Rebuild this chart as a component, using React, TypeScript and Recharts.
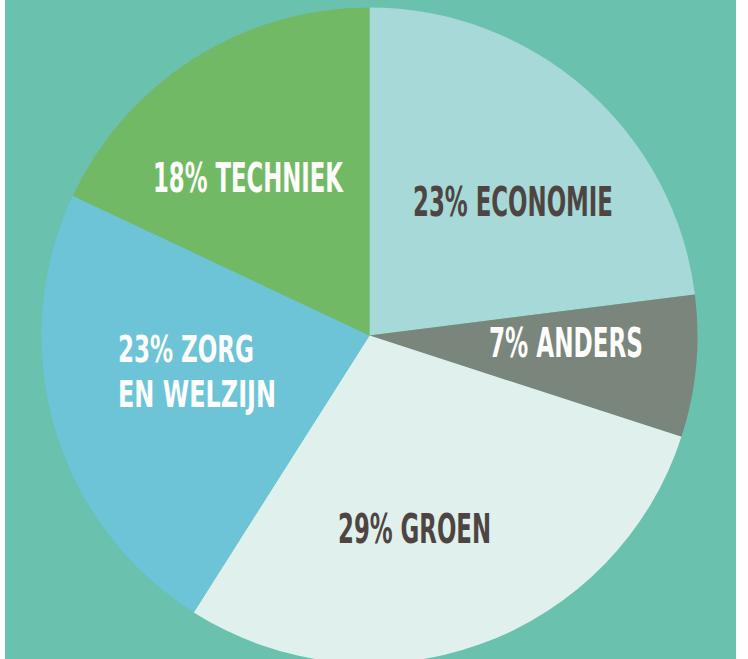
import { PieChart, Pie, Cell } from 'recharts';

// sector shares, clockwise from 12 o'clock
const categories = ['ECONOMIE', 'ANDERS', 'GROEN', 'ZORG', 'TECHNIEK'];
const shares = [23, 7, 29, 23, 18];
// extra label lines below the first one
const extraLines = [[], [], [], ['EN WELZIJN'], []];

const SLICE_COLORS = ['#a7d9d8', '#7a857b', '#e0f1ed', '#6dc4d7', '#72b965'];
const TEXT_COLORS = ['#4e4542', '#fdfdfb', '#4e4542', '#fdfdfb', '#fdfdfb'];

// label placement relative to pie centre: left x, baseline y, line widths
const LABEL_LAYOUT = [
  { dx: 43.5, dy: -119.5, widths: [200], size: 40 },
  { dx: 119.5, dy: 21.5, widths: [154], size: 40 },
  { dx: -31.5, dy: 207.5, widths: [153], size: 40 },
  { dx: -251.5, dy: 26, widths: [136, 158], size: 38 },
  { dx: -216.5, dy: -143.5, widths: [190], size: 40 },
];

const data = categories.map((name, i) => ({
  name,
  value: shares[i],
  lines: [`${shares[i]}% ${name}`, ...extraLines[i]],
}));

const W = 748;
const H = 659;
const CX = 369.5;
const CY = 335.5;
const R = 328;

const renderLabel = (props: any) => {
  const { cx, cy, index } = props;
  const layout = LABEL_LAYOUT[index];
  const lines: string[] = data[index].lines;
  const x = cx + layout.dx;
  return (
    <g>
      {lines.map((line, j) => (
        <text
          key={j}
          x={x}
          y={cy + layout.dy + j * 45}
          textAnchor="start"
          fill={TEXT_COLORS[index]}
          fontFamily="'DejaVu Sans Condensed', 'DejaVu Sans', sans-serif"
          fontWeight="bold"
          fontSize={layout.size}
          textLength={layout.widths[j]}
          lengthAdjust="spacingAndGlyphs"
        >
          {line}
        </text>
      ))}
    </g>
  );
};

export default function App() {
  return (
    <div
      style={{
        position: 'absolute',
        left: 0,
        top: 0,
        width: W,
        height: H,
        background: '#ffffff',
        overflow: 'hidden',
      }}
    >
      <div
        style={{
          position: 'absolute',
          left: 5,
          top: 0,
          width: 731,
          height: H,
          background: '#6ac1ad',
        }}
      />
      <div style={{ position: 'absolute', left: 0, top: 0 }}>
        <PieChart width={W} height={H} margin={{ top: 0, right: 0, bottom: 0, left: 0 }}>
          <Pie
            data={data}
            dataKey="value"
            nameKey="name"
            cx={CX}
            cy={CY}
            outerRadius={R}
            innerRadius={0}
            startAngle={90}
            endAngle={-270}
            stroke="none"
            label={renderLabel}
            labelLine={false}
            isAnimationActive={false}
          >
            {data.map((entry, index) => (
              <Cell key={`cell-${entry.name}`} fill={SLICE_COLORS[index]} />
            ))}
          </Pie>
        </PieChart>
      </div>
    </div>
  );
}
